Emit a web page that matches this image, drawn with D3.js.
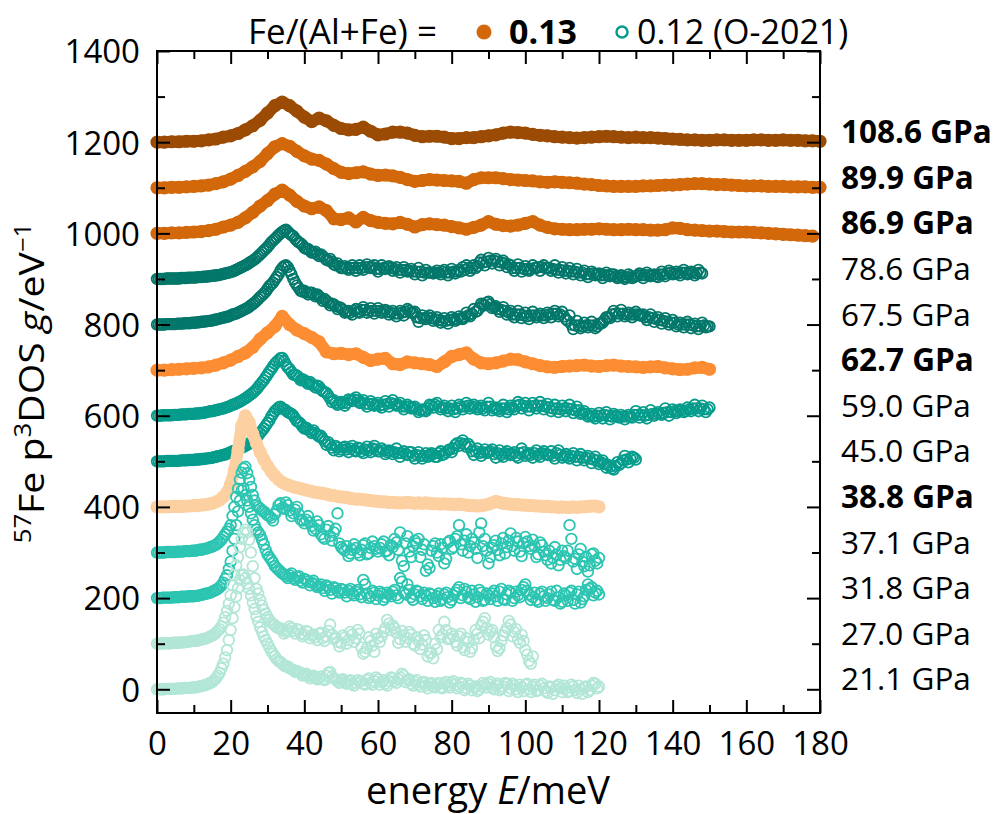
<!DOCTYPE html>
<html>
<head>
<meta charset="utf-8">
<script src="https://cdn.jsdelivr.net/npm/d3@7"></script>
<style>
  html, body { margin: 0; padding: 0; background: #fff; }
  svg { display: block; font-family: "Open Sans", "Noto Sans", sans-serif; }
</style>
</head>
<body>
<svg id="chart" width="1003" height="814"></svg>
<script>
// Stacked 57Fe partial projected phonon DOS spectra, offset by 100 per pressure step.
// Each spectrum is sampled on a regular energy grid (meV) starting at 0; the older
// (open-symbol) spectra also carry the in-between samples at half-step energies.

const pressureLabels = ["21.1 GPa", "27.0 GPa", "31.8 GPa", "37.1 GPa", "38.8 GPa", "45.0 GPa",
  "59.0 GPa", "62.7 GPa", "67.5 GPa", "78.6 GPa", "86.9 GPa", "89.9 GPa", "108.6 GPa"];
const offsets = [0, 100, 200, 300, 400, 500, 600, 700, 800, 900, 1000, 1100, 1200];
const energySteps = [1, 1, 1, 1, 1, 1, 1, 2, 1, 1, 2, 2, 2];
// true = new samples Fe/(Al+Fe) = 0.13 (filled), false = 0.12 (O-2021) (open)
const isNewSample = [false, false, false, false, true, false, false, true, false, false, true, true, true];
const seriesColors = ["#b2e6d7", "#b2e6d7", "#2cc5b2", "#2cc5b2", "#fdd0a2", "#069c8c",
  "#069c8c", "#fd8d32", "#02776a", "#02776a", "#d3680b", "#d3680b", "#9b4b03"];

const dos_21_1 = [0,0,0,1,1,1,2,2,3,3,4,
  5,7,9,12,16,24,36,56,86,130,
  180,222,250,244,220, 190,160,136,116,100, 84,72,62,56,50, 46,42,40,36,32,
  30,28,26,24,22, 30,38,24,18,20, 16,18,12,14,16, 12,20,14,18,22,
  16,12,18,24,14, 26,30,20,12,16, 10,14,8,12,6, 10,4,12,8,14,
  10,6,12,2,8, 4,-4,6,10,12, 4,8,-2,6,12, 2,8,-6,4,10,
  0,6,-4,8,2, -8,4,-2,10,-6, 2,-4,6,-8,0, 4,-6,8,12,6];
const dos_21_1_mid = [0,0,1,1,1,2,2,3,3,4,
  4,6,8,10,14,20,30,46,70,108,
  156,204,240,252,232,206,176,148,126,108,
  92,78,66,60,52,50,44,38,38,30,
  34,24,30,22,28,20,36,28,22,14,
  22,12,20,8,20,18,10,24,10,26,
  10,20,8,26,18,22,34,16,22,8,
  20,6,16,2,14,4,14,2,16,4,
  18,2,14,-2,12,-2,6,0,14,4,
  16,0,12,2,14,-4,12,0,10,-4,
  12,-6,10,-2,12,-4,6,-10,6,2,
  8,-6,10,-2,8,-10,6,-2,14,2];

const dos_27_0 = [0,0,1,1,1,2,2,3,4,5,6,
  7,9,11,14,18,24,32,46,72,106,
  150,190,230,250,228, 170,120,96,74,58, 46,40,34,30,26, 38,28,32,22,20,
  26,18,14,22,12, 16,42,10,4,2, 14,8,20,12,22, -22,-10,6,-18,12,
  16,34,44,40,24, 10,18,12,20,-4, 6,-2,8,-20,-32, -12,14,48,10,22,
  4,16,-8,12,-18, 8,22,40,56,20, 30,-6,-10,18,34, 42,26,10,20,-14,
  -38,-28];
const dos_27_0_mid = [0,1,1,1,2,2,3,3,4,6,
  6,8,10,12,16,20,28,38,58,88,
  128,172,212,244,244,200,144,110,84,66,
  52,44,36,34,22,30,34,22,30,16,
  28,12,20,8,24,6,28,20,14,-6,
  18,0,26,4,30,-8,-18,14,-4,22,
  4,26,52,30,34,2,28,4,26,0,
  14,-12,18,-28,-20,0,30,20,30,12,
  16,-4,22,-14,4,-10,30,12,48,34,
  26,14,-16,6,26,50,16,32,2,6,
  -24,-44];

const dos_31_8 = [0,0,1,1,1,2,2,3,3,4,4,
  5,7,9,11,14,18,24,34,50,80,
  130,190,236,226,200, 172,150,138,118,96, 84,70,62,54,48, 50,44,46,38,42,
  36,34,30,26,22, 28,18,24,16,20, 12,16,10,14,8, 40,10,4,12,6,
  10,2,8,14,6, 44,12,30,2,8, 14,-2,6,10,0, 4,-6,8,2,-4,
  12,24,6,14,-2, 8,2,12,-4,6, 10,4,14,-2,8, 12,0,6,18,30,
  8,2,-4,10,4, 0,14,-6,2,-8, 6,12,-4,8,-10, 4,30,24,12,8];
const dos_31_8_mid = [0,1,1,1,2,2,3,3,4,4,
  5,6,8,10,12,16,20,28,42,64,
  104,160,214,240,214,186,160,144,128,106,
  90,78,66,58,52,44,54,40,48,34,
  40,28,38,24,30,16,24,10,22,12,
  18,4,20,6,18,2,30,0,16,-2,
  14,-4,12,4,18,0,36,8,18,-4,
  16,4,12,-6,8,-8,10,-2,12,-10,
  6,18,0,20,2,16,-8,18,-6,10,
  -2,16,-6,20,-4,16,-6,14,2,24,
  16,-4,12,-8,14,-6,8,-4,16,-12,
  10,-6,16,-12,14,-2,18,20,6,16];

const dos_37_1 = [0,0,0,1,1,1,2,2,3,3,4,
  5,6,8,10,13,17,24,34,46,60,
  100,140,175,188,160, 126,104,96,90,82, 76,84,104,98,110, 92,86,100,72,64,
  80,58,52,60,34, 50,36,44,86,12, 4,-8,6,10,-6, 16,-4,10,14,2,
  18,2,-6,12,22, 44,-30,36,-10,26, 30,6,-40,-34,14, 0,18,-24,22,8,
  30,60,4,40,14, 22,-12,64,30,-24, 10,26,-6,32,12, 42,4,24,-8,34,
  14,28,-10,22,2, -16,-24,12,-28,4, -12,60,-20,-36,8, -30,-42,-4,-18,-12];
const dos_37_1_mid = [0,0,1,1,1,2,2,3,3,4,
  4,6,7,9,12,15,20,28,40,52,
  80,122,160,184,174,144,114,100,92,86,
  80,70,92,108,96,104,80,94,84,70,
  72,66,48,68,40,30,58,26,52,20,
  8,14,-2,18,0,6,20,-2,24,8,
  10,24,4,16,30,6,-18,20,2,14,
  20,-10,18,-26,4,20,-8,10,-14,26,
  12,36,18,26,0,30,8,44,14,4,
  -10,16,6,20,-2,26,14,32,2,20,
  24,8,14,-4,16,-6,4,-12,-4,-16,
  -8,4,30,-14,-4,-20,-10,-28,-2,-24];

const dos_38_8 = [0,0,0,0,1,1,1,1,2,2,3,
  3,4,5,6,8,11,15,22,32,50,
  80,125,178,200,186, 160,140,120,104,90, 78,68,60,54,50,
  47,44,42,40,38,36,34,32,31,30, 28,26,25,23,22,21,20,18,17,17,
  16,15,14,13,12,11,11,10,10,9, 9,9,10,9,8,9,8,9,8,7,
  7,6,7,6,6,5,6,5,4,3, 3,2,3,4,6,9,12,10,8,7,
  6,5,5,4,4,3,3,2,2,1, 1,0,0,-1,0,-1,-1,0,-1,0, 0,1,2,2,0];

const dos_45_0 = [0,0,0,1,1,1,1,2,2,3,3,
  4,5,6,7,8,10,12,14,17,20,
  23,26,30,34,39,45,52,62,72,84,
  98,110,118,116,112,106, 100,88,82,72,70,62,62,54,50,
  36,36,24,30,26,32,20,34,22,28, 18,32,20,34,22,28,16,24,16,28,
  10,22,14,20,6,20,6,18,14,16, 10,22,16,24,20,36,34,46,32,32,
  14,28,12,26,20,26,8,24,10,22, 14,20,8,28,12,18,8,24,10,22,
  14,22,6,24,8,16,6,18,2,16, 2,12,-4,10,-6,2,-14,-12,-18,-2,
  -4,12,-2,10,4];
const dos_45_0_mid = [0,0,1,1,1,1,2,2,3,3,
  4,4,5,6,7,9,11,13,15,18,
  22,24,28,32,36,42,48,57,67,78,
  90,104,114,120,114,108,104,94,86,76,
  74,66,68,58,56,44,42,30,34,22,
  30,26,28,24,30,22,26,24,28,26,
  22,24,20,22,20,18,18,16,20,12,
  14,12,12,10,18,10,18,14,20,26,
  28,40,40,38,38,22,22,18,20,18,
  22,16,18,14,18,16,16,12,18,20,
  16,14,18,14,18,16,14,12,18,14,
  12,10,12,10,10,8,8,6,4,2,
  -2,-6,-8,-16,-10,-8,2,4,6,8];

const dos_59_0 = [0,0,1,1,1,2,2,3,3,4,4,
  5,6,7,9,10,12,14,16,19,22,
  25,29,33,38,44,50,58,68,78,90,
  102,114,122,127,112,102,90, 88,78,78,70,70,62,64,54,
  50,38,34,24,30,22,36,32,40,28, 34,20,32,22,28,18,32,20,34,22,
  28,14,24,16,20,8,14,10,24,18, 28,14,22,10,22,8,24,14,28,16,
  24,14,22,12,28,12,18,10,24,8, 22,14,30,16,28,12,28,16,30,14,
  26,10,24,8,22,10,24,6,20,4, 10,-2,4,-6,6,-6,8,-8,4,-2,
  2,-8,2,-4,10,-4,8,-6,12,0, 8,2,16,0,14,6,14,8,18,10,
  24,10,22,8,18];
const dos_59_0_mid = [0,1,1,1,2,2,3,3,4,4,
  5,5,6,8,10,11,13,15,17,20,
  24,27,31,36,41,47,54,63,73,84,
  96,108,118,126,120,106,96,90,84,80,
  74,74,66,66,58,52,44,30,28,26,
  28,28,34,36,34,30,26,26,26,24,
  22,24,26,28,26,24,20,20,20,18,
  14,12,12,16,22,24,20,18,16,16,
  14,16,20,20,22,20,18,18,16,20,
  20,16,14,16,16,14,18,22,24,22,
  20,20,22,22,22,20,18,16,16,14,
  16,16,14,12,12,6,4,0,-2,0,
  0,2,0,-2,0,-4,-2,-2,-2,2,
  2,2,0,2,4,4,4,6,8,8,
  10,10,12,10,14,16,16,16,14,14];

const dos_62_7 = [0,0,1,2,3,4,5,7,11,16,
  22,30,38,50,68,82,96,118,100,88,
  80,72,62,40,36,37,34,36,28,21,
  24,26,14,12,18,16,14,12,8,18,
  30,34,38,24,16,14,16,20,24,23,
  18,14,10,7,6,8,9,10,11,9,
  8,10,11,9,8,7,6,7,8,5,
  3,1,2,5,6,2];

const dos_67_5 = [0,0,0,1,1,1,2,2,3,3,4,
  5,6,7,8,9,11,13,15,17,20,
  23,26,30,34,39,45,52,60,68,78,
  88,98,110,124,130,118,100, 86,74,74,66,70,62,62,52,
  52,42,44,34,36,26,30,22,34,26, 38,26,36,24,36,26,32,22,30,18,
  30,20,34,26,28,6,20,12,20,8, 16,4,14,2,16,8,18,12,26,18,
  34,30,46,42,50,36,40,28,38,22, 30,16,30,14,26,12,28,16,24,14,
  26,16,30,18,28,12,20,-10,8,-8, 4,-6,6,-8,2,4,16,14,30,18,
  32,18,26,16,28,20,22,10,22,6, 16,2,14,0,10,-4,4,-6,6,-8,
  2,-10,4,-6,-4];
const dos_67_5_mid = [0,0,1,1,1,2,2,3,3,4,
  4,5,6,7,8,10,12,14,16,18,
  22,24,28,32,36,42,48,56,64,72,
  84,92,104,118,128,126,110,92,80,72,
  70,70,66,66,58,56,48,46,40,38,
  32,28,26,30,28,32,32,30,30,30,
  30,30,28,26,24,24,26,28,30,26,
  16,14,14,16,14,12,10,8,8,10,
  12,12,14,16,20,24,28,36,44,48,
  44,38,34,32,30,26,22,22,22,20,
  18,20,20,20,20,20,22,24,24,22,
  18,8,0,-2,-2,-4,-2,-2,-2,-4,
  2,10,16,22,24,24,24,22,22,22,
  22,20,16,16,14,12,10,8,6,4,
  4,0,0,0,0,-2,-4,-4,-2,-4];

const dos_78_6 = [0,0,0,1,1,1,1,2,2,3,3,
  4,4,5,6,7,8,9,11,13,15,
  18,22,26,30,35,40,46,54,62,70,
  80,88,96,103,108,100, 94,84,78,68,66,58,60,50,50,
  42,44,32,34,24,28,20,30,18,30, 20,32,24,30,16,30,22,28,18,26,
  14,26,16,22,10,24,8,20,14,12, 18,10,20,8,22,12,20,26,30,18,
  30,28,42,30,46,34,44,30,40,26, 30,18,32,16,28,18,30,24,18,30,
  24,18,30,14,26,12,24,10,22,8, 18,4,16,8,12,2,14,6,10,2,
  8,0,10,2,6,12,2,14,6,10, 4,16,6,18,10,16,8,20,10,16,
  8,20,12];
const dos_78_6_mid = [0,0,1,1,1,1,2,2,3,3,
  3,4,5,5,6,7,8,10,12,14,
  16,20,24,28,32,38,43,50,58,66,
  75,84,92,100,106,104,96,88,80,74,
  66,62,58,54,54,46,40,38,30,28,
  24,24,24,24,24,24,26,26,26,22,
  22,24,26,24,22,20,20,20,18,16,
  16,16,14,14,14,14,14,16,14,14,
  16,16,16,20,24,24,24,36,36,38,
  40,40,38,36,34,32,24,24,24,22,
  22,22,24,26,26,24,24,22,20,20,
  18,18,16,16,14,14,10,10,12,10,
  8,8,8,10,6,4,4,4,6,4,
  8,8,8,8,8,6,10,10,12,14,
  12,12,14,14,12,14,12,14];

const dos_86_9 = [0,0,1,1,2,3,4,6,9,14,
  18,24,34,46,60,72,86,95,84,70,
  60,54,58,50,32,30,34,25,35,28,
  24,22,21,24,20,14,19,21,19,18,
  15,12,9,13,18,26,20,17,16,18,
  22,26,18,13,10,9,8,8,9,9,
  10,9,8,8,9,8,8,7,7,8,
  12,11,8,7,6,5,5,4,3,3,
  3,2,1,0,-1,-2,-3,-4,-5,-6];

const dos_89_9 = [0,0,1,1,2,3,4,6,9,13,
  19,27,36,46,58,75,90,97,91,80,
  70,63,60,52,42,34,31,33,35,30,
  27,28,26,23,18,14,16,18,17,16,
  15,14,10,18,22,22,22,20,18,17,
  16,15,13,12,13,12,11,10,8,7,
  5,4,3,3,3,3,4,4,5,6,
  6,7,8,9,9,8,7,7,6,5,
  4,4,4,3,3,3,2,2,2,1,
  1];

const dos_108_6 = [0,0,1,1,2,2,3,5,7,11,
  14,19,27,36,48,64,80,88,80,68,
  55,45,53,47,37,30,27,28,33,24,
  16,18,22,22,20,15,12,13,13,11,
  8,8,10,10,12,14,16,20,22,21,
  20,17,15,14,12,11,10,9,10,11,
  12,13,12,11,10,11,10,10,9,8,
  7,6,5,5,4,4,5,5,4,4,
  4,5,5,4,4,5,4,4,3,3,
  2];

const dosSeries = [dos_21_1, dos_27_0, dos_31_8, dos_37_1, dos_38_8, dos_45_0,
  dos_59_0, dos_62_7, dos_67_5, dos_78_6, dos_86_9, dos_89_9, dos_108_6];
const dosMidSeries = [dos_21_1_mid, dos_27_0_mid, dos_31_8_mid, dos_37_1_mid, null, dos_45_0_mid,
  dos_59_0_mid, null, dos_67_5_mid, dos_78_6_mid, null, null, null];

const xTicksMajor = [0, 20, 40, 60, 80, 100, 120, 140, 160, 180];
const xTicksMinor = [10, 30, 50, 70, 90, 110, 130, 150, 170];
const yTicksMajor = [0, 200, 400, 600, 800, 1000, 1200, 1400];
const yTicksMinor = [100, 300, 500, 700, 900, 1100, 1300];

(function draw() {
  const svg = d3.select("#chart");
  const plotLeft = 157, plotRight = 820, plotTop = 51, plotBottom = 713;

  const x = d3.scaleLinear().domain([0, 180]).range([plotLeft, plotRight]);
  const y = d3.scaleLinear().domain([-52, 1400]).range([plotBottom, plotTop]);

  // Point records for each spectrum (grid samples plus half-step samples)
  const series = dosSeries.map((vals, k) => {
    const step = energySteps[k];
    const pts = vals.map((v, i) => ({ e: i * step, g: v + offsets[k] }));
    const mid = dosMidSeries[k];
    if (mid) mid.forEach((v, i) => pts.push({ e: (i + 0.5) * step, g: v + offsets[k] }));
    pts.sort((a, b) => a.e - b.e);
    return {
      label: pressureLabels[k],
      offset: offsets[k],
      filled: isNewSample[k],
      color: seriesColors[k],
      points: pts
    };
  });

  const line = d3.line().x(d => x(d.e)).y(d => y(d.g));

  // Highest offset first, so lower spectra sit on top
  const plot = svg.append("g");
  series.slice().reverse().forEach(s => {
    const g = plot.append("g");
    if (s.filled) {
      g.append("path")
        .attr("d", line(s.points))
        .attr("fill", "none")
        .attr("stroke", s.color)
        .attr("stroke-width", 12)
        .attr("stroke-linejoin", "round")
        .attr("stroke-linecap", "round");
      g.selectAll("circle").data(s.points).join("circle")
        .attr("cx", d => x(d.e)).attr("cy", d => y(d.g))
        .attr("r", 6.6).attr("fill", s.color);
    } else {
      g.selectAll("circle").data(s.points).join("circle")
        .attr("cx", d => x(d.e)).attr("cy", d => y(d.g))
        .attr("r", 5.3).attr("fill", "none")
        .attr("stroke", s.color).attr("stroke-width", 1.8);
    }
  });

  // Frame
  svg.append("rect")
    .attr("x", plotLeft).attr("y", plotTop)
    .attr("width", plotRight - plotLeft).attr("height", plotBottom - plotTop)
    .attr("fill", "none").attr("stroke", "#000").attr("stroke-width", 2);

  function styleAxis(g) {
    g.select(".domain").remove();
    g.selectAll(".tick line").attr("stroke", "#000").attr("stroke-width", 2);
  }

  // Inward ticks on all four sides
  const axes = svg.append("g");
  axes.append("g").attr("transform", `translate(0,${plotBottom})`)
    .call(d3.axisBottom(x).tickValues(xTicksMinor).tickSize(-8).tickFormat(""))
    .call(styleAxis);
  axes.append("g").attr("transform", `translate(0,${plotTop})`)
    .call(d3.axisTop(x).tickValues(xTicksMinor).tickSize(-8).tickFormat(""))
    .call(styleAxis);
  axes.append("g").attr("transform", `translate(0,${plotTop})`)
    .call(d3.axisTop(x).tickValues(xTicksMajor).tickSize(-13).tickFormat(""))
    .call(styleAxis);
  const xAxis = axes.append("g").attr("transform", `translate(0,${plotBottom})`)
    .call(d3.axisBottom(x).tickValues(xTicksMajor).tickSize(-13).tickFormat(d3.format("d")))
    .call(styleAxis);
  xAxis.selectAll(".tick text")
    .attr("y", 42).attr("dy", 0)
    .attr("font-size", 33).attr("fill", "#000")
    .attr("font-family", "'Open Sans', sans-serif");

  axes.append("g").attr("transform", `translate(${plotLeft},0)`)
    .call(d3.axisLeft(y).tickValues(yTicksMinor).tickSize(-8).tickFormat(""))
    .call(styleAxis);
  axes.append("g").attr("transform", `translate(${plotRight},0)`)
    .call(d3.axisRight(y).tickValues(yTicksMinor).tickSize(-8).tickFormat(""))
    .call(styleAxis);
  axes.append("g").attr("transform", `translate(${plotRight},0)`)
    .call(d3.axisRight(y).tickValues(yTicksMajor).tickSize(-13).tickFormat(""))
    .call(styleAxis);
  const yAxis = axes.append("g").attr("transform", `translate(${plotLeft},0)`)
    .call(d3.axisLeft(y).tickValues(yTicksMajor).tickSize(-13).tickFormat(d3.format("d")))
    .call(styleAxis);
  yAxis.selectAll(".tick text")
    .attr("x", -17).attr("dy", "0.36em")
    .attr("font-size", 33).attr("fill", "#000")
    .attr("font-family", "'Open Sans', sans-serif");

  // Pressure labels to the right of the frame
  svg.append("g").selectAll("text").data(series).join("text")
    .attr("x", 841)
    .attr("y", d => y(d.offset) + 1)
    .attr("font-size", 31.5)
    .attr("font-weight", d => d.filled ? 700 : 400)
    .attr("fill", "#000")
    .text(d => d.label);

  // Axis titles
  const xTitle = svg.append("text")
    .attr("x", 488).attr("y", 804)
    .attr("text-anchor", "middle")
    .attr("font-size", 38).attr("fill", "#000");
  xTitle.append("tspan").text("energy ");
  xTitle.append("tspan").attr("font-style", "italic").text("E");
  xTitle.append("tspan").text("/meV");

  const yTitle = svg.append("text")
    .attr("transform", "translate(44,383) rotate(-90) scale(1.12,1)")
    .attr("text-anchor", "middle")
    .attr("font-size", 35).attr("fill", "#000");
  yTitle.append("tspan").attr("font-size", 23).attr("dy", -13).text("57");
  yTitle.append("tspan").attr("dy", 13).text("Fe p");
  yTitle.append("tspan").attr("font-size", 23).attr("dy", -13).text("3");
  yTitle.append("tspan").attr("dy", 13).text("DOS ");
  yTitle.append("tspan").attr("font-style", "italic").text("g");
  yTitle.append("tspan").text("/eV");
  yTitle.append("tspan").attr("font-size", 23).attr("dy", -13).text("\u22121");

  // Legend
  const legend = svg.append("g");
  legend.append("text").attr("x", 248).attr("y", 44)
    .attr("font-size", 35).attr("fill", "#000").text("Fe/(Al+Fe) =");
  legend.append("circle").attr("cx", 484).attr("cy", 32).attr("r", 7.5)
    .attr("fill", "#d3680b");
  legend.append("text").attr("x", 509).attr("y", 44)
    .attr("font-size", 34).attr("font-weight", 700).attr("fill", "#000").text("0.13");
  legend.append("circle").attr("cx", 622).attr("cy", 32).attr("r", 5.5)
    .attr("fill", "none").attr("stroke", "#069c8c").attr("stroke-width", 2.5);
  legend.append("text").attr("x", 637).attr("y", 44)
    .attr("font-size", 34).attr("fill", "#000").text("0.12 (O-2021)");
})();
</script>
</body>
</html>
